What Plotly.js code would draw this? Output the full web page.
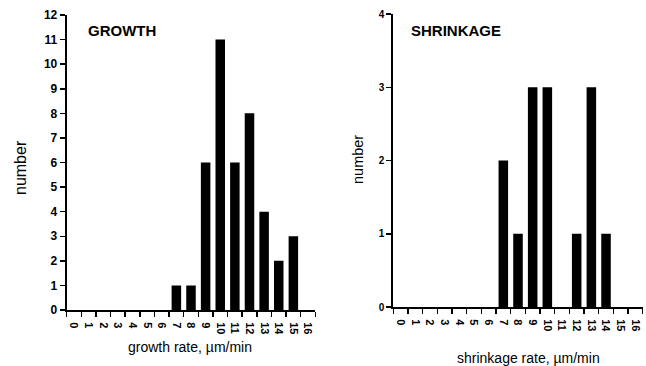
<!DOCTYPE html>
<html>
<head>
<meta charset="utf-8">
<script src="https://cdn.plot.ly/plotly-3.0.1.min.js"></script>
<style>html,body{margin:0;padding:0;background:#fff;}#chart{width:646px;height:366px;}</style>
</head>
<body>
<div id="chart"></div>
<script>
// Rate bins (µm/min)
const rateBins = [0,1,2,3,4,5,6,7,8,9,10,11,12,13,14,15,16];
const rateLabels = ["0","1","2","3","4","5","6","7","8","9","10","11","12","13","14","15","16"];
// Growth histogram counts
const growthCounts = [0,0,0,0,0,0,0,1,1,6,11,6,8,4,2,3,0];
// Shrinkage histogram counts
const shrinkCounts = [0,0,0,0,0,0,0,2,1,3,3,0,1,3,1,0,0];
const growthYTicks = [0,1,2,3,4,5,6,7,8,9,10,11,12];
const shrinkYTicks = [0,1,2,3,4];

const FAM = "Liberation Sans, Arial, Helvetica, sans-serif";
const binEdges = rateBins.map(v => v - 0.5).concat([rateBins[rateBins.length-1] + 0.5]);

function xAxis(domain, anchor) {
  return {
    domain: domain, anchor: anchor,
    range: [binEdges[0], binEdges[binEdges.length-1]],
    showline: true, linecolor: '#000', linewidth: 2,
    showgrid: false, zeroline: false,
    tickmode: 'array', tickvals: rateBins, ticktext: rateLabels,
    ticks: 'outside', ticklen: 8, tickcolor: 'rgba(0,0,0,0)',
    tickangle: 90,
    tickfont: {family: FAM, size: 11, color: '#000', weight: 'bold'},
    minor: {tickmode: 'array', tickvals: binEdges, ticks: 'outside', ticklen: 5, tickwidth: 1.5, tickcolor: '#000', showgrid: false},
    automargin: false, fixedrange: true
  };
}
function yAxis(domain, anchor, range, vals, fs) {
  return {
    domain: domain, anchor: anchor, range: range,
    showline: true, linecolor: '#000', linewidth: 2,
    showgrid: false, zeroline: false,
    tickmode: 'array', tickvals: vals,
    ticks: 'outside', ticklen: 5, tickwidth: 1.5, tickcolor: '#000',
    tickfont: {family: FAM, size: fs, color: '#000', weight: 'bold'},
    automargin: false, fixedrange: true
  };
}

const data = [
  {type: 'bar', x: rateBins, y: growthCounts, xaxis: 'x', yaxis: 'y', width: 0.65,
   marker: {color: '#000', line: {width: 0}}, hoverinfo: 'x+y'},
  {type: 'bar', x: rateBins, y: shrinkCounts, xaxis: 'x2', yaxis: 'y2', width: 0.65,
   marker: {color: '#000', line: {width: 0}}, hoverinfo: 'x+y'}
];

const W = 646, H = 366;
const layout = {
  width: W, height: H,
  margin: {l: 0, r: 0, t: 0, b: 0},
  paper_bgcolor: '#fff', plot_bgcolor: '#fff',
  showlegend: false,
  font: {family: FAM, color: '#000'},
  xaxis: xAxis([66.7/W, 315.3/W], 'y'),
  yaxis: yAxis([(H-310)/H, (H-15)/H], 'x', [0, 12], growthYTicks, 12),
  xaxis2: xAxis([393.3/W, 642.7/W], 'y2'),
  yaxis2: yAxis([(H-307)/H, (H-14)/H], 'x2', [0, 4], shrinkYTicks, 10),
  annotations: [
    {text: 'GROWTH', xref: 'paper', yref: 'paper', x: 85.7/W, y: 1-31/H, xanchor: 'left', yanchor: 'middle', showarrow: false,
     font: {family: FAM, size: 15, color: '#000', weight: 'bold'}},
    {text: 'SHRINKAGE', xref: 'paper', yref: 'paper', x: 409.3/W, y: 1-31/H, xanchor: 'left', yanchor: 'middle', showarrow: false,
     font: {family: FAM, size: 15, color: '#000', weight: 'bold'}},
    {text: 'number', xref: 'paper', yref: 'paper', x: 20/W, y: 1-168/H, xanchor: 'center', yanchor: 'middle', textangle: -90, showarrow: false,
     font: {family: FAM, size: 16, color: '#000'}},
    {text: 'number', xref: 'paper', yref: 'paper', x: 358/W, y: 1-160/H, xanchor: 'center', yanchor: 'middle', textangle: -90, showarrow: false,
     font: {family: FAM, size: 14.5, color: '#000'}},
    {text: 'growth rate, µm/min', xref: 'paper', yref: 'paper', x: 190/W, y: 1-347/H, xanchor: 'center', yanchor: 'middle', showarrow: false,
     font: {family: FAM, size: 14, color: '#000'}},
    {text: 'shrinkage rate, µm/min', xref: 'paper', yref: 'paper', x: 528/W, y: 1-358/H, xanchor: 'center', yanchor: 'middle', showarrow: false,
     font: {family: FAM, size: 14, color: '#000'}}
  ]
};

Plotly.newPlot('chart', data, layout, {displayModeBar: false, staticPlot: true});
</script>
</body>
</html>
